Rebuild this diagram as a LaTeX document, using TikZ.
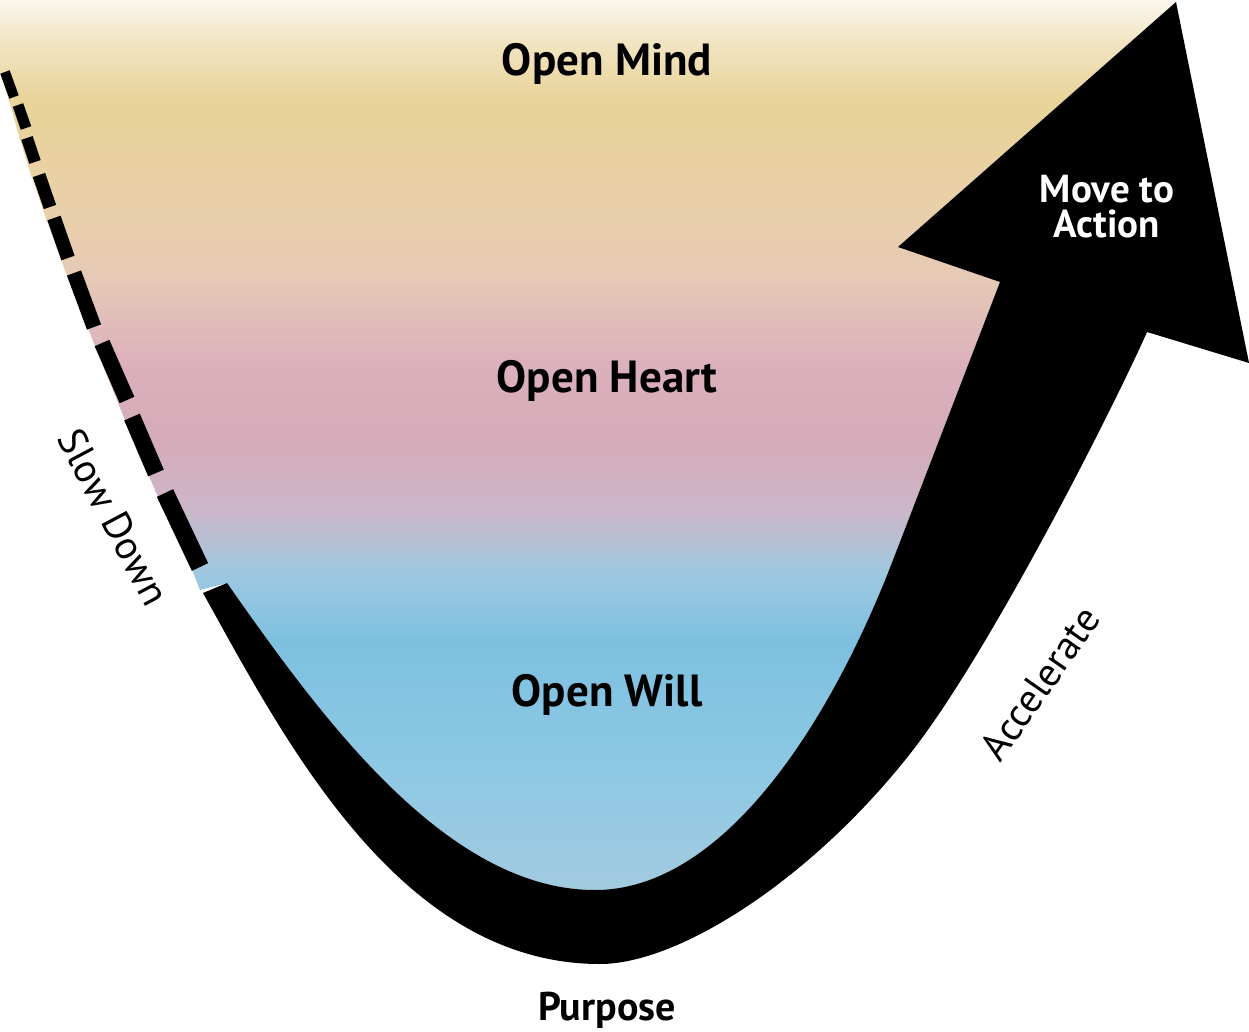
\documentclass[tikz,border=0pt]{standalone}
\usepackage{fontspec}
\setmainfont{PT Sans}
\begin{document}
\begin{tikzpicture}[x=1pt,y=-1pt,
  lbl/.style={font=\bfseries\fontsize{45}{49}\selectfont, anchor=base, inner sep=0pt},
  small/.style={font=\bfseries\fontsize{39}{43}\selectfont, anchor=base, inner sep=0pt},
  side/.style={font=\fontsize{40}{44}\selectfont, inner sep=0pt},
  dashseg/.style={line width=#1, black}]
\useasboundingbox (0,0) rectangle (1249,1032);
% colours
\definecolor{c0}{HTML}{FBF7EE}
\definecolor{c1}{HTML}{F2E5C4}
\definecolor{c2}{HTML}{E8D398}
\definecolor{c3}{HTML}{E9D0A8}
\definecolor{c4}{HTML}{E6C9B6}
\definecolor{c5}{HTML}{DBB1BC}
\definecolor{c6}{HTML}{D5ABB9}
\definecolor{c7}{HTML}{CDB6C9}
\definecolor{c8}{HTML}{9FC8E0}
\definecolor{c9}{HTML}{7EC0E0}
\definecolor{c10}{HTML}{8CC8E4}
\definecolor{c11}{HTML}{A4CBE0}
% key points of the U
\coordinate (ostart) at (203,593);
\coordinate (obot) at (600,964);
\coordinate (omid) at (913,750);
\coordinate (rnotch) at (1147,332);
\coordinate (rwing) at (1249,363);
\coordinate (tip) at (1176,2);
\coordinate (lwing) at (898,247);
\coordinate (lnotch) at (1000,282);
\coordinate (imid) at (893,560);
\coordinate (ibot) at (595,890);
\coordinate (istart) at (227,583);
% watercolour field
\begin{scope}
\clip (0,0) -- (1176,0) -- (tip) -- (lwing) -- (lnotch) -- (imid)
  .. controls (828.8,726.8) and (722,890) .. (ibot)
  .. controls (445,890) and (319,714) .. (istart)
  -- (200,590) -- (193,572) -- (158,497) -- (125,420) -- (95,346) -- (67,276) -- (47,221) -- (32,178) -- (20,140) -- (11,107) -- (0,72) -- cycle;
\shade[top color=c0, bottom color=c1] (0,-1) rectangle (1249,41);
\shade[top color=c1, bottom color=c2] (0,40) rectangle (1249,101);
\shade[top color=c2, bottom color=c3] (0,100) rectangle (1249,201);
\shade[top color=c3, bottom color=c4] (0,200) rectangle (1249,281);
\shade[top color=c4, bottom color=c5] (0,280) rectangle (1249,361);
\shade[top color=c5, bottom color=c6] (0,360) rectangle (1249,441);
\shade[top color=c6, bottom color=c7] (0,440) rectangle (1249,511);
\shade[top color=c7, bottom color=c8] (0,510) rectangle (1249,571);
\shade[top color=c8, bottom color=c9] (0,570) rectangle (1249,641);
\shade[top color=c9, bottom color=c10] (0,640) rectangle (1249,761);
\shade[top color=c10, bottom color=c11] (0,760) rectangle (1249,900);
\end{scope}
% black U arrow
\fill[black] (ostart)
  .. controls (285.6,741.6) and (400,964) .. (obot)
  .. controls (680,964) and (814,877.5) .. (omid)
  .. controls (992,648) and (1115,404.5) .. (rnotch)
  -- (rwing) -- (tip) -- (lwing) -- (lnotch) -- (imid)
  .. controls (828.8,726.8) and (722,890) .. (ibot)
  .. controls (445,890) and (319,714) .. (istart)
  -- cycle;
% dashed lead-in
\coordinate (d1a) at (5,72);    \coordinate (d1b) at (14,97);
\coordinate (d2a) at (18,105);  \coordinate (d2b) at (26,128);
\coordinate (d3a) at (27,138);  \coordinate (d3b) at (35,162);
\coordinate (d4a) at (39,175);  \coordinate (d4b) at (50,207);
\coordinate (d5a) at (54,218);  \coordinate (d5b) at (68,258);
\coordinate (d6a) at (74,273);  \coordinate (d6b) at (94,327);
\coordinate (d7a) at (102,343); \coordinate (d7b) at (127,400);
\coordinate (d8a) at (132,417); \coordinate (d8b) at (156,473);
\coordinate (d9a) at (165,493); \coordinate (d9b) at (200,567);
\draw[dashseg=10] (d1a) -- (d1b);
\draw[dashseg=11] (d2a) -- (d2b);
\draw[dashseg=12] (d3a) -- (d3b);
\draw[dashseg=13] (d4a) -- (d4b);
\draw[dashseg=14] (d5a) -- (d5b);
\draw[dashseg=15] (d6a) -- (d6b);
\draw[dashseg=16] (d7a) -- (d7b);
\draw[dashseg=17] (d8a) -- (d8b);
\draw[dashseg=18] (d9a) -- (d9b);
% labels
\node[lbl] (mind) at (607,76) {Open Mind};
\node[lbl] (heart) at (607,392) {Open Heart};
\node[lbl] (will) at (607,706) {Open Will};
\node[small, font=\bfseries\fontsize{40}{44}\selectfont] (purpose) at (607,1020) {Purpose};
\node[small, text=white] (move) at (1107,203) {Move to};
\node[small, text=white] (action) at (1107,238) {Action};
\node[side, rotate=-62] (slow) at (114,517) {Slow Down};
\node[side, rotate=55] (acc) at (1040,683) {Accelerate};
\end{tikzpicture}
\end{document}
